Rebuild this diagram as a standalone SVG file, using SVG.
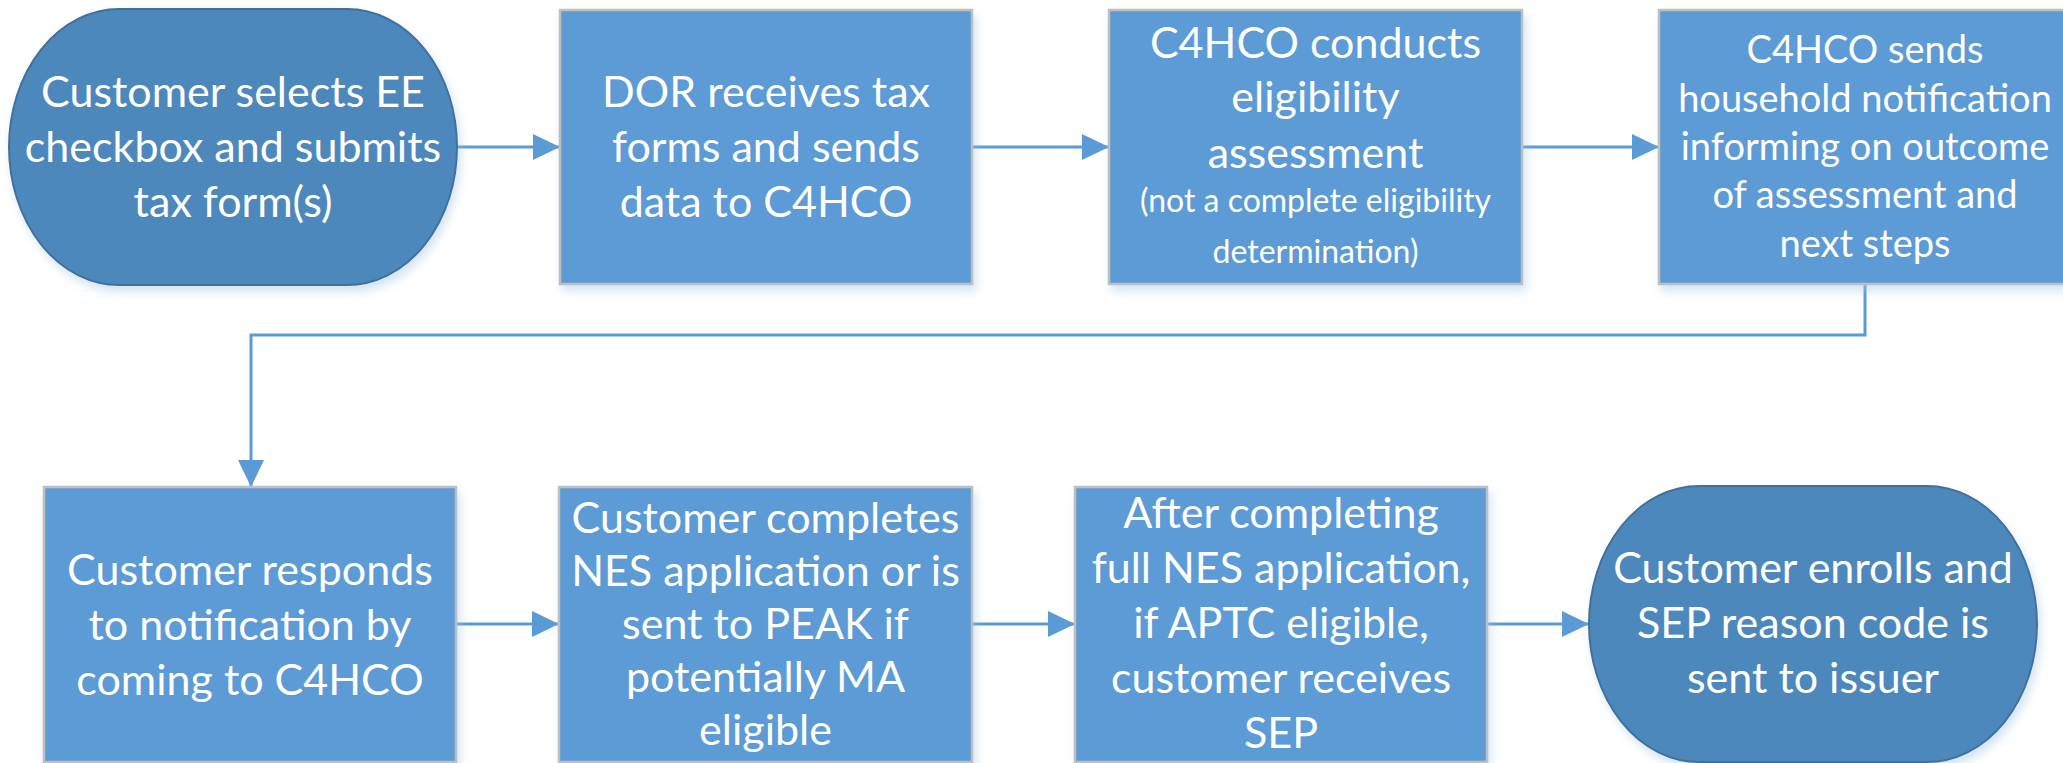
<svg xmlns="http://www.w3.org/2000/svg" width="2063" height="763" viewBox="0 0 2063 763">
<style>
.box{fill:#5B9BD5;stroke:#BFBFBF;stroke-width:2.5}
.term{fill:#4E88BC;stroke:#41719C;stroke-width:2}
.t{font-family:Lato,'Liberation Sans',sans-serif;fill:#FFFFFF;text-anchor:middle;font-size:43px}
.t4{font-size:38px}
.ts{font-size:32px}
.conn{fill:none;stroke:#5B9BD5;stroke-width:3}
</style>
<defs>
<filter id="sh" x="-10%" y="-10%" width="125%" height="130%">
<feDropShadow dx="3" dy="6" stdDeviation="5" flood-color="#9DC3E6" flood-opacity="0.45"/>
</filter>
<marker id="ah" viewBox="0 0 27 26" refX="27" refY="13" markerWidth="27" markerHeight="26" markerUnits="userSpaceOnUse" orient="auto">
<path d="M0,0 L27,13 L0,26 Z" fill="#5B9BD5"/>
</marker>
</defs>
<rect width="2063" height="763" fill="#FFFFFF"/>
<g id="connectors">
<path class="conn" d="M457,147 H560" marker-end="url(#ah)"/>
<path class="conn" d="M972,147 H1109" marker-end="url(#ah)"/>
<path class="conn" d="M1522,147 H1659" marker-end="url(#ah)"/>
<path class="conn" d="M1865,284 V335 H251 V487" marker-end="url(#ah)"/>
<path class="conn" d="M456,624 H559" marker-end="url(#ah)"/>
<path class="conn" d="M972,624 H1075" marker-end="url(#ah)"/>
<path class="conn" d="M1487,624 H1589" marker-end="url(#ah)"/>
</g>
<g id="n1">
<rect class="term" x="9" y="9" width="448" height="276" rx="110" ry="138" filter="url(#sh)"/>
<text class="t" x="233" y="107">Customer selects EE</text>
<text class="t" x="233" y="162">checkbox and submits</text>
<text class="t" x="233" y="217">tax form(s)</text>
</g>
<g id="n2">
<rect class="box" x="560" y="10" width="412" height="274" filter="url(#sh)"/>
<text class="t" x="766" y="107">DOR receives tax</text>
<text class="t" x="766" y="162">forms and sends</text>
<text class="t" x="766" y="217">data to C4HCO</text>
</g>
<g id="n3">
<rect class="box" x="1109" y="10" width="413" height="274" filter="url(#sh)"/>
<text class="t" x="1315.5" y="58">C4HCO conducts</text>
<text class="t" x="1315.5" y="112">eligibility</text>
<text class="t" x="1315.5" y="168">assessment</text>
<text class="t ts" x="1315.5" y="212">(not a complete eligibility</text>
<text class="t ts" x="1315.5" y="263">determination)</text>
</g>
<g id="n4">
<rect class="box" x="1659" y="10" width="412" height="274" filter="url(#sh)"/>
<text class="t t4" x="1865" y="63">C4HCO sends</text>
<text class="t t4" x="1865" y="112">household notification</text>
<text class="t t4" x="1865" y="160">informing on outcome</text>
<text class="t t4" x="1865" y="208">of assessment and</text>
<text class="t t4" x="1865" y="257">next steps</text>
</g>
<g id="n5">
<rect class="box" x="44" y="487" width="412" height="275" filter="url(#sh)"/>
<text class="t" x="250" y="585">Customer responds</text>
<text class="t" x="250" y="640">to notification by</text>
<text class="t" x="250" y="695">coming to C4HCO</text>
</g>
<g id="n6">
<rect class="box" x="559" y="487" width="413" height="275" filter="url(#sh)"/>
<text class="t" x="765.5" y="533">Customer completes</text>
<text class="t" x="765.5" y="586">NES application or is</text>
<text class="t" x="765.5" y="639">sent to PEAK if</text>
<text class="t" x="765.5" y="692">potentially MA</text>
<text class="t" x="765.5" y="745">eligible</text>
</g>
<g id="n7">
<rect class="box" x="1075" y="487" width="412" height="275" filter="url(#sh)"/>
<text class="t" x="1281" y="528">After completing</text>
<text class="t" x="1281" y="583">full NES application,</text>
<text class="t" x="1281" y="638">if APTC eligible,</text>
<text class="t" x="1281" y="693">customer receives</text>
<text class="t" x="1281" y="748">SEP</text>
</g>
<g id="n8">
<rect class="term" x="1589" y="486" width="448" height="276" rx="110" ry="138" filter="url(#sh)"/>
<text class="t" x="1813" y="583">Customer enrolls and</text>
<text class="t" x="1813" y="638">SEP reason code is</text>
<text class="t" x="1813" y="693">sent to issuer</text>
</g>
</svg>
